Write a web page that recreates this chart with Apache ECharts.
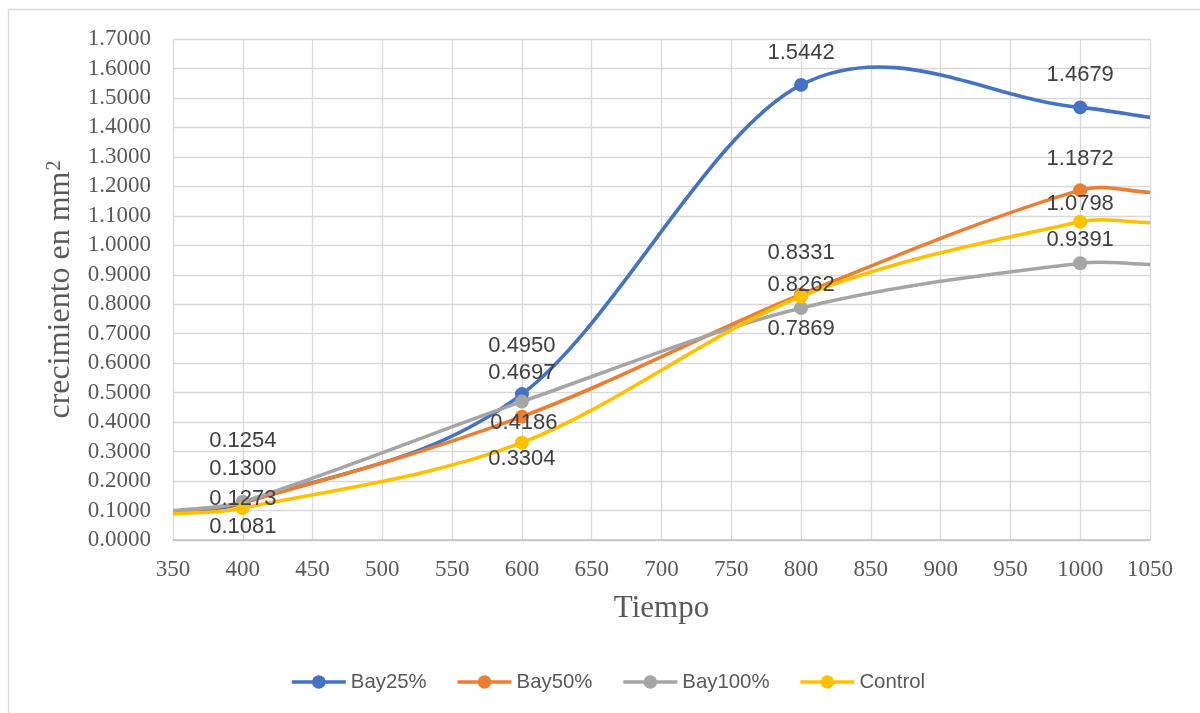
<!DOCTYPE html>
<html>
<head>
<meta charset="utf-8">
<script src="https://cdn.jsdelivr.net/npm/echarts@6/dist/echarts.min.js"></script>
<style>
html,body{margin:0;padding:0;background:#fff;}
#c{width:1200px;height:713px;}
</style>
</head>
<body>
<div id="c"></div>
<script>
// ---- data ----
const tiempo = [400, 600, 800, 1000];
const seriesNames = ['Bay25%', 'Bay50%', 'Bay100%', 'Control'];
const bay25 = [0.1254, 0.4950, 1.5442, 1.4679];
const bay50 = [0.1273, 0.4186, 0.8331, 1.1872];
const bay100 = [0.1300, 0.4697, 0.7869, 0.9391];
const control = [0.1081, 0.3304, 0.8262, 1.0798];
// curve values where the smoothed lines meet the plot edges
const edgeX = [350, 1050];
const bay25Edge = [0.096, 1.434];
const bay50Edge = [0.096, 1.180];
const bay100Edge = [0.099, 0.935];
const controlEdge = [0.088, 1.077];
const xTicks = {min: 350, max: 1050, step: 50};
const yTicks = {min: 0, max: 1.7, step: 0.1};

// ---- styling ----
const colors = ['#4472C4', '#ED7D31', '#A5A5A5', '#FFC000'];
const labelOffsets = [
  [[0, -62], [0, -48], [0, -32], [0, -32]],
  [[0, -4], [2, 6], [0, -42], [0, -31]],
  [[0, -33], [0, -29], [0, 21], [0, -23]],
  [[0, 19], [0, 16], [0, -12], [0, -18]]
];
const allVals = [bay25, bay50, bay100, control];
const allEdges = [bay25Edge, bay50Edge, bay100Edge, controlEdge];

function curvePoints(idx) {
  const vals = allVals[idx], edge = allEdges[idx];
  const p = [[edgeX[0], edge[0]]];
  tiempo.forEach((t, i) => p.push([t, vals[i]]));
  p.push([edgeX[1], edge[1]]);
  return p;
}

// Excel-like smoothed line (Catmull-Rom / Hermite tangents) drawn through the axes' scales
function makeRenderer(idx) {
  return function (params, api) {
    const p = curvePoints(idx);
    const n = p.length;
    const m = p.map((pt, i) => {
      if (i === 0) return (p[1][1] - p[0][1]) / (p[1][0] - p[0][0]);
      if (i === n - 1) return (p[n - 1][1] - p[n - 2][1]) / (p[n - 1][0] - p[n - 2][0]);
      return (p[i + 1][1] - p[i - 1][1]) / (p[i + 1][0] - p[i - 1][0]);
    });
    const c0 = api.coord(p[0]);
    let d = 'M' + c0[0] + ' ' + c0[1];
    for (let i = 0; i < n - 1; i++) {
      const h = p[i + 1][0] - p[i][0];
      const a = api.coord([p[i][0] + h / 3, p[i][1] + m[i] * h / 3]);
      const b = api.coord([p[i + 1][0] - h / 3, p[i + 1][1] - m[i + 1] * h / 3]);
      const e = api.coord(p[i + 1]);
      d += ' C' + a[0] + ' ' + a[1] + ' ' + b[0] + ' ' + b[1] + ' ' + e[0] + ' ' + e[1];
    }
    return {
      type: 'path', silent: true,
      shape: {pathData: d},
      style: {stroke: colors[idx], lineWidth: 3.6, fill: 'none', lineCap: 'round', lineJoin: 'round'}
    };
  };
}

const serif = "'Liberation Serif', 'DejaVu Serif', serif";
const sans = "'Liberation Sans', Arial, sans-serif";

const curveSeries = seriesNames.map((name, idx) => ({
  name: name + ' curve',
  type: 'custom',
  coordinateSystem: 'cartesian2d',
  z: 2,
  clip: true,
  silent: true,
  renderItem: makeRenderer(idx),
  data: [[xTicks.min, yTicks.min]]
}));

const pointSeries = seriesNames.map((name, idx) => ({
  name: name,
  type: 'line',
  z: 3,
  symbol: 'circle',
  symbolSize: 14,
  showSymbol: true,
  lineStyle: {width: 3.6, color: colors[idx], opacity: 0},
  itemStyle: {color: colors[idx]},
  emphasis: {disabled: true},
  label: {
    show: true, position: 'inside',
    fontFamily: sans, fontSize: 22, color: '#404040',
    formatter: p => p.value[1].toFixed(4)
  },
  data: tiempo.map((t, i) => ({
    value: [t, allVals[idx][i]],
    label: {offset: labelOffsets[idx][i]}
  }))
}));

const chart = echarts.init(document.getElementById('c'), null, {renderer: 'canvas'});
chart.setOption({
  animation: false,
  backgroundColor: '#ffffff',
  graphic: [{
    type: 'rect', silent: true, z: -10,
    shape: {x: 8.5, y: 9.5, width: 1300, height: 800},
    style: {fill: 'none', stroke: '#d9d9d9', lineWidth: 1.3}
  }],
  grid: {left: 173, right: 50, top: 39, bottom: 173, containLabel: false},
  legend: {
    left: 285, top: 667,
    itemWidth: 54, itemHeight: 17, itemGap: 29,
    textStyle: {fontFamily: sans, fontSize: 20.4, color: '#595959'},
    lineStyle: {width: 3.6, opacity: 1},
    data: seriesNames
  },
  xAxis: {
    type: 'value', min: xTicks.min, max: xTicks.max, interval: xTicks.step,
    name: 'Tiempo', nameLocation: 'middle', nameGap: 53,
    nameTextStyle: {fontFamily: serif, fontSize: 31, color: '#595959'},
    axisLine: {show: true, lineStyle: {color: '#bfbfbf', width: 1.5}},
    axisTick: {show: false},
    axisLabel: {fontFamily: serif, fontSize: 23, color: '#595959', margin: 18,
      formatter: v => String(v)},
    splitLine: {show: true, lineStyle: {color: '#d9d9d9', width: 1.3}}
  },
  yAxis: {
    type: 'value', min: yTicks.min, max: yTicks.max, interval: yTicks.step,
    name: 'crecimiento en mm{sup|2}', nameLocation: 'middle', nameGap: 95,
    nameTextStyle: {fontFamily: serif, fontSize: 32, color: '#595959',
      rich: {sup: {fontFamily: serif, fontSize: 20, color: '#595959', verticalAlign: 'top', padding: [0, 0, 12, 1]}}},
    axisLine: {show: false},
    axisTick: {show: false},
    axisLabel: {fontFamily: serif, fontSize: 23, color: '#595959', margin: 22,
      formatter: v => v.toFixed(4)},
    splitLine: {show: true, lineStyle: {color: '#d9d9d9', width: 1.3}}
  },
  series: curveSeries.concat(pointSeries)
});
</script>
</body>
</html>
